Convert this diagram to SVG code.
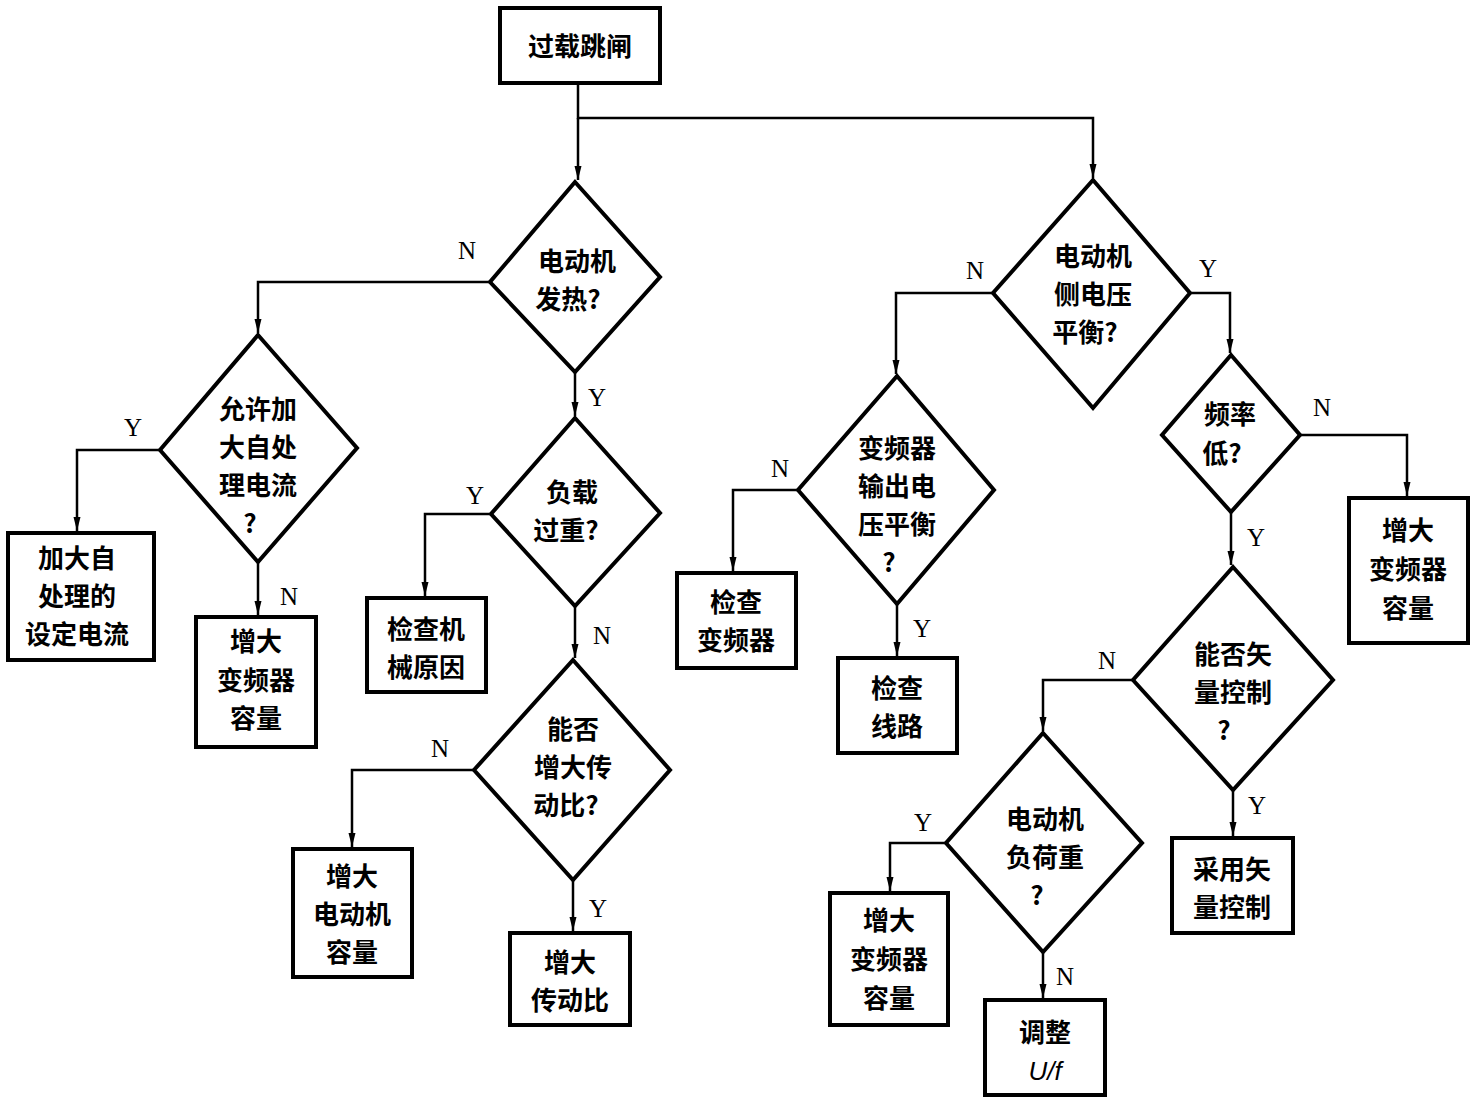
<svg xmlns="http://www.w3.org/2000/svg" width="1477" height="1101" viewBox="0 0 1477 1101">
<style>
.bx{fill:#fff;stroke:#000;stroke-width:4}
.dm{fill:#fff;stroke:#000;stroke-width:4;stroke-linejoin:miter}
.ln{fill:none;stroke:#000;stroke-width:2.5}
.t{font-family:"Noto Sans CJK SC","Noto Sans",sans-serif;font-weight:bold;font-size:26px;text-anchor:middle;fill:#000}
.lb{font-family:"Liberation Serif",serif;font-size:25px;text-anchor:middle;fill:#000}
.it{font-family:"Liberation Sans",sans-serif;font-style:italic;font-weight:normal;font-size:26px}
</style>
<defs>
<marker id="arr" viewBox="0 0 14 8" refX="14" refY="4" markerWidth="14" markerHeight="8" orient="auto" markerUnits="userSpaceOnUse"><path d="M0,0.5 L14,4 L0,7.5 z" fill="#000"/></marker>
</defs>
<rect width="1477" height="1101" fill="#fff"/>

<g id="connectors">
<path class="ln" d="M578,83 V118 H1093 V178" marker-end="url(#arr)"/>
<path class="ln" d="M578,118 V180" marker-end="url(#arr)"/>
<path class="ln" d="M490,282 H258 V333" marker-end="url(#arr)"/>
<path class="ln" d="M160,450 H77 V531" marker-end="url(#arr)"/>
<path class="ln" d="M258,562 V615" marker-end="url(#arr)"/>
<path class="ln" d="M575,372 V416" marker-end="url(#arr)"/>
<path class="ln" d="M491,514 H425 V596" marker-end="url(#arr)"/>
<path class="ln" d="M575,606 V658" marker-end="url(#arr)"/>
<path class="ln" d="M474,770 H352 V847" marker-end="url(#arr)"/>
<path class="ln" d="M573,880 V931" marker-end="url(#arr)"/>
<path class="ln" d="M993,293 H896 V374" marker-end="url(#arr)"/>
<path class="ln" d="M798,490 H733 V571" marker-end="url(#arr)"/>
<path class="ln" d="M897,604 V656" marker-end="url(#arr)"/>
<path class="ln" d="M1190,293 H1230 V353" marker-end="url(#arr)"/>
<path class="ln" d="M1300,435 H1407 V496" marker-end="url(#arr)"/>
<path class="ln" d="M1231,512 V565" marker-end="url(#arr)"/>
<path class="ln" d="M1133,680 H1043 V731" marker-end="url(#arr)"/>
<path class="ln" d="M946,843 H890 V891" marker-end="url(#arr)"/>
<path class="ln" d="M1043,952 V998" marker-end="url(#arr)"/>
<path class="ln" d="M1233,790 V836" marker-end="url(#arr)"/>
<text class="lb" x="467" y="259">N</text>
<text class="lb" x="133" y="436">Y</text>
<text class="lb" x="289" y="605">N</text>
<text class="lb" x="597" y="406">Y</text>
<text class="lb" x="475" y="504">Y</text>
<text class="lb" x="602" y="644">N</text>
<text class="lb" x="440" y="757">N</text>
<text class="lb" x="598" y="917">Y</text>
<text class="lb" x="975" y="279">N</text>
<text class="lb" x="780" y="477">N</text>
<text class="lb" x="922" y="637">Y</text>
<text class="lb" x="1208" y="277">Y</text>
<text class="lb" x="1322" y="416">N</text>
<text class="lb" x="1256" y="546">Y</text>
<text class="lb" x="1107" y="669">N</text>
<text class="lb" x="923" y="831">Y</text>
<text class="lb" x="1065" y="985">N</text>
<text class="lb" x="1257" y="814">Y</text>
</g>

<g id="start">
<rect class="bx" x="500" y="8" width="160" height="75"/>
<text class="t" x="580" y="56">过载跳闸</text>
</g>

<g id="d1">
<polygon class="dm" points="575,182 660,277 575,372 490,282"/>
<text class="t" x="577" y="271">电动机</text>
<text class="t" x="568" y="309">发热?</text>
</g>

<g id="d2">
<polygon class="dm" points="258,335 357,448 258,562 160,450"/>
<text class="t" x="258" y="419">允许加</text>
<text class="t" x="258" y="457">大自处</text>
<text class="t" x="258" y="495">理电流</text>
<text class="t" x="250" y="533">?</text>
</g>

<g id="b1">
<rect class="bx" x="8" y="533" width="146" height="127"/>
<text class="t" x="77" y="568">加大自</text>
<text class="t" x="77" y="606">处理的</text>
<text class="t" x="77" y="644">设定电流</text>
</g>

<g id="b2">
<rect class="bx" x="196" y="617" width="120" height="130"/>
<text class="t" x="256" y="651">增大</text>
<text class="t" x="256" y="690">变频器</text>
<text class="t" x="256" y="728">容量</text>
</g>

<g id="d3">
<polygon class="dm" points="575,418 660,513 575,606 491,514"/>
<text class="t" x="572" y="502">负载</text>
<text class="t" x="566" y="540">过重?</text>
</g>

<g id="b3">
<rect class="bx" x="367" y="598" width="119" height="94"/>
<text class="t" x="426" y="639">检查机</text>
<text class="t" x="426" y="677">械原因</text>
</g>

<g id="d4">
<polygon class="dm" points="573,660 670,770 573,880 474,770"/>
<text class="t" x="573" y="739">能否</text>
<text class="t" x="573" y="777">增大传</text>
<text class="t" x="566" y="815">动比?</text>
</g>

<g id="b4">
<rect class="bx" x="293" y="849" width="119" height="128"/>
<text class="t" x="352" y="886">增大</text>
<text class="t" x="352" y="924">电动机</text>
<text class="t" x="352" y="962">容量</text>
</g>

<g id="b5">
<rect class="bx" x="510" y="933" width="120" height="92"/>
<text class="t" x="570" y="972">增大</text>
<text class="t" x="570" y="1010">传动比</text>
</g>

<g id="d5">
<polygon class="dm" points="1093,180 1190,293 1093,408 993,293"/>
<text class="t" x="1093" y="266">电动机</text>
<text class="t" x="1093" y="304">侧电压</text>
<text class="t" x="1085" y="342">平衡?</text>
</g>

<g id="d6">
<polygon class="dm" points="897,376 994,490 897,604 798,490"/>
<text class="t" x="897" y="458">变频器</text>
<text class="t" x="897" y="496">输出电</text>
<text class="t" x="897" y="534">压平衡</text>
<text class="t" x="889" y="572">?</text>
</g>

<g id="b6">
<rect class="bx" x="677" y="573" width="119" height="95"/>
<text class="t" x="736" y="612">检查</text>
<text class="t" x="736" y="650">变频器</text>
</g>

<g id="b7">
<rect class="bx" x="838" y="658" width="119" height="95"/>
<text class="t" x="897" y="698">检查</text>
<text class="t" x="897" y="736">线路</text>
</g>

<g id="d7">
<polygon class="dm" points="1231,355 1300,435 1231,512 1162,435"/>
<text class="t" x="1230" y="424">频率</text>
<text class="t" x="1222" y="463">低?</text>
</g>

<g id="b8">
<rect class="bx" x="1349" y="498" width="119" height="145"/>
<text class="t" x="1408" y="540">增大</text>
<text class="t" x="1408" y="579">变频器</text>
<text class="t" x="1408" y="618">容量</text>
</g>

<g id="d8">
<polygon class="dm" points="1233,567 1333,680 1233,790 1133,680"/>
<text class="t" x="1233" y="664">能否矢</text>
<text class="t" x="1233" y="702">量控制</text>
<text class="t" x="1224" y="740">?</text>
</g>

<g id="d9">
<polygon class="dm" points="1043,733 1142,843 1043,952 946,843"/>
<text class="t" x="1045" y="829">电动机</text>
<text class="t" x="1045" y="867">负荷重</text>
<text class="t" x="1037" y="905">?</text>
</g>

<g id="b9">
<rect class="bx" x="830" y="893" width="118" height="132"/>
<text class="t" x="889" y="930">增大</text>
<text class="t" x="889" y="969">变频器</text>
<text class="t" x="889" y="1008">容量</text>
</g>

<g id="b10">
<rect class="bx" x="985" y="1000" width="120" height="95"/>
<text class="t" x="1045" y="1042">调整</text>
<text class="t it" x="1045" y="1080">U/f</text>
</g>

<g id="b11">
<rect class="bx" x="1172" y="838" width="121" height="95"/>
<text class="t" x="1232" y="879">采用矢</text>
<text class="t" x="1232" y="917">量控制</text>
</g>
</svg>
